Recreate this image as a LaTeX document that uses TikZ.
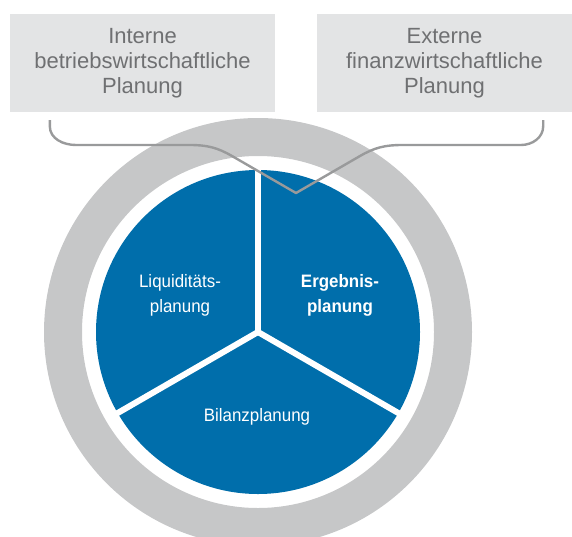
\documentclass[tikz,border=0pt]{standalone}
\usepackage{fontspec}
\setmainfont{Liberation Sans}
\newfontfamily\condfont[FakeStretch=0.94]{Liberation Sans}
\definecolor{boxgray}{HTML}{E3E4E5}
\definecolor{ringgray}{HTML}{C6C7C8}
\definecolor{pieblue}{HTML}{006EAB}
\definecolor{textgray}{HTML}{6F7072}
\definecolor{linegray}{HTML}{999A9B}
\begin{document}
\begin{tikzpicture}[x=1pt,y=1pt,
  plan/.style={fill=boxgray,text=textgray,align=center,inner sep=0pt,
    font=\fontsize{22}{25}\selectfont},
  part/.style={text=white,align=center,inner sep=0pt,
    font=\condfont\fontsize{18}{25}\selectfont}]
\useasboundingbox (0,0) rectangle (572,-536);
\clip (0,0) rectangle (572,-536);
\node [plan,minimum width=265pt,minimum height=98pt] (intern) at (142.5,-63) {Interne\\betriebswirtschaftliche\\Planung};
\node [plan,minimum width=255pt,minimum height=98pt] (extern) at (444.5,-63) {Externe\\finanzwirtschaftliche\\Planung};

\coordinate (mid) at (258,-332);
\fill [ringgray,even odd rule] (mid) circle (214) (mid) circle (176);
\fill [pieblue] (mid) circle (162);
\foreach \a in {90,210,330}
  \draw [white,line width=6pt] (mid) -- ++(\a:166);

\node [part] (liq) at (180,-295) {Liquiditäts-\\planung};
\node [part,font=\condfont\bfseries\fontsize{18}{25}\selectfont] (erg) at (340,-295) {Ergebnis-\\planung};
\node [part] (bil) at (257,-417) {Bilanzplanung};

\coordinate (vtip) at (296,-193);
\draw [linegray,line width=2.4pt,line join=round]
  ([xshift=40pt,yshift=-8pt]intern.south west) -- ++(0,-6)
  to[out=-90,in=180] (76,-145) -- (190,-145)
  to[out=0,in=150] (232,-156) -- (vtip) -- (360,-156)
  to[out=30,in=180] (402,-145) -- (521,-145)
  to[out=0,in=-90] ([xshift=-29pt,yshift=-14pt]extern.south east) -- ++(0,6);
\end{tikzpicture}
\end{document}
